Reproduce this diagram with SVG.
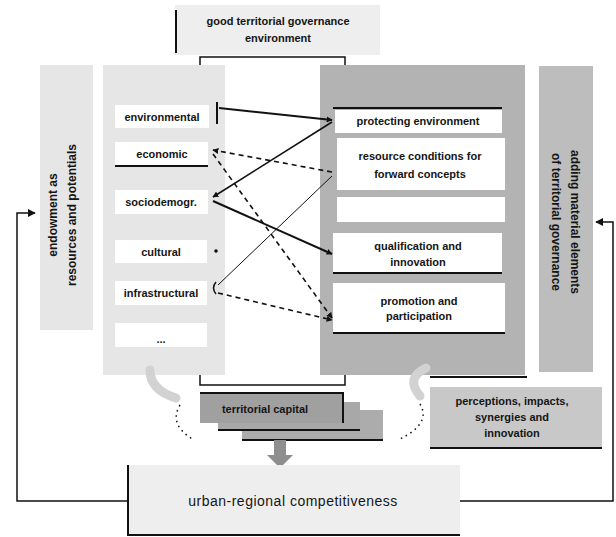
<svg xmlns="http://www.w3.org/2000/svg" width="616" height="537" viewBox="0 0 616 537">
<defs>
<marker id="ah" viewBox="0 0 10 10" refX="9" refY="5" markerWidth="6" markerHeight="6" orient="auto-start-reverse" markerUnits="userSpaceOnUse"><path d="M0,0 L10,5 L0,10 z" fill="#111"/></marker>
<marker id="ahb" viewBox="0 0 10 10" refX="9" refY="5" markerWidth="8" markerHeight="8" orient="auto" markerUnits="userSpaceOnUse"><path d="M0,0 L10,5 L0,10 z" fill="#111"/></marker>
</defs>
<style>
.t{font-family:"Liberation Sans",Arial,sans-serif;font-size:11px;font-weight:bold;fill:#151515;text-anchor:middle}
.v{font-family:"Liberation Sans",Arial,sans-serif;font-size:12px;font-weight:bold;fill:#151515;text-anchor:middle}
.box{fill:#ffffff}
.ln{stroke:#111;stroke-width:2;fill:none}
.c{stroke:#111;fill:none}
</style>
<rect width="616" height="537" fill="#ffffff"/>

<g id="frame"><rect x="200" y="57" width="145" height="328" fill="#ffffff" stroke="#111" stroke-width="1.5"/></g>

<g id="top-governance">
<rect x="175" y="5" width="205" height="50" fill="#eeeeee"/>
<line x1="176" y1="10" x2="176" y2="53" class="ln"/>
<text class="t" x="278" y="25">good territorial governance</text>
<text class="t" x="278" y="42">environment</text>
</g>

<g id="endowment">
<rect x="40" y="65" width="53" height="265" fill="#e6e6e6"/>
<text class="v" transform="translate(57,215) rotate(-90)">endowment as</text>
<text class="v" transform="translate(76,215) rotate(-90)">resources and potentials</text>
</g>

<g id="left-panel">
<rect x="103" y="65" width="122" height="310" fill="#e6e6e6"/>
</g>
<g id="environmental"><rect class="box" x="115" y="105" width="94" height="23"/><text class="t" x="162" y="121">environmental</text></g>
<g id="economic"><rect class="box" x="115" y="142" width="93" height="24"/><line x1="115" y1="166" x2="208" y2="166" class="ln"/><text class="t" x="162" y="158">economic</text></g>
<g id="sociodemogr"><rect class="box" x="115" y="190" width="93" height="24"/><text class="t" x="161" y="206">sociodemogr.</text></g>
<g id="cultural"><rect class="box" x="115" y="240" width="92" height="23"/><text class="t" x="161" y="256">cultural</text></g>
<g id="infrastructural"><rect class="box" x="115" y="281" width="92" height="24"/><text class="t" x="161" y="297">infrastructural</text></g>
<g id="more"><rect class="box" x="115" y="323" width="92" height="24"/><text class="t" x="161" y="343">...</text></g>

<g id="right-panel">
<rect x="320" y="65" width="205" height="310" fill="#b3b3b3"/>
<line x1="430" y1="377" x2="527" y2="377" class="ln"/>
</g>
<g id="protecting"><line x1="333" y1="108" x2="502" y2="108" class="ln"/><rect class="box" x="335" y="110" width="167" height="23"/><text class="t" x="418" y="125">protecting environment</text></g>
<g id="resource"><rect class="box" x="337" y="138" width="168" height="52"/><text class="t" x="420" y="160">resource conditions for</text><text class="t" x="420" y="178">forward concepts</text></g>
<g id="empty"><rect class="box" x="337" y="197" width="168" height="25"/></g>
<g id="qualification"><rect class="box" x="333" y="233" width="169" height="40"/><line x1="333" y1="273" x2="502" y2="273" class="ln"/><text class="t" x="418" y="250">qualification and</text><text class="t" x="418" y="266">innovation</text></g>
<g id="participation"><rect class="box" x="333" y="283" width="172" height="50"/><line x1="333" y1="333" x2="505" y2="333" class="ln"/><text class="t" x="419" y="305">promotion and</text><text class="t" x="419" y="320">participation</text></g>

<g id="governance-elements">
<rect x="539" y="66" width="54" height="306" fill="#bdbdbd"/>
<text class="v" transform="translate(571,222) rotate(90)">adding material elements</text>
<text class="v" transform="translate(552,222) rotate(90)">of territorial governance</text>
</g>

<g id="territorial-capital">
<rect x="242" y="410" width="141" height="30" fill="#acacac"/>
<line x1="242" y1="440" x2="383" y2="440" class="ln"/>
<rect x="218" y="402" width="142" height="28" fill="#a8a8a8"/>
<line x1="218" y1="430" x2="360" y2="430" class="ln"/>
<rect x="200" y="393" width="143" height="30" fill="#a0a0a0"/>
<path d="M200,393 H343 V423" class="ln"/>
<text class="t" x="265" y="413">territorial capital</text>
<path d="M274,440 H286 V455 H293 L280,468 L267,455 H274 Z" fill="#8e8e8e"/>
</g>

<g id="perceptions">
<rect x="430" y="387" width="172" height="61" fill="#c8c8c8"/>
<line x1="430" y1="448" x2="602" y2="448" class="ln"/>
<text class="t" x="512" y="405">perceptions, impacts,</text>
<text class="t" x="512" y="421">synergies and</text>
<text class="t" x="512" y="437">innovation</text>
</g>

<g id="competitiveness">
<rect x="127" y="465" width="333" height="70" fill="#eeeeee"/>
<path d="M128,465 V535 H460" class="ln"/>
<text class="t" x="293" y="506" style="font-size:14px;font-weight:normal;letter-spacing:0.5px">urban-regional competitiveness</text>
</g>

<g id="connectors">
<line x1="217" y1="102" x2="217" y2="124" class="ln"/>
<line x1="219" y1="108" x2="332" y2="120" class="c" stroke-width="2" marker-end="url(#ah)"/>
<line x1="332" y1="172" x2="213" y2="150" class="c" stroke-width="1.6" stroke-dasharray="5,4" marker-end="url(#ah)"/>
<line x1="332" y1="122" x2="213" y2="197" class="c" stroke-width="1.6" marker-end="url(#ah)"/>
<line x1="213" y1="201" x2="332" y2="254" class="c" stroke-width="2" marker-end="url(#ah)"/>
<line x1="213" y1="154" x2="332" y2="318" class="c" stroke-width="1.6" stroke-dasharray="5,4" marker-end="url(#ah)"/>
<line x1="218" y1="285" x2="332" y2="176" class="c" stroke-width="1" stroke="#444"/>
<line x1="218" y1="293" x2="332" y2="320" class="c" stroke-width="1.6" stroke-dasharray="5,4" marker-end="url(#ah)"/>
<path d="M216,282 Q211,288 216,294" class="c" stroke-width="1.5"/>
<circle cx="216" cy="251" r="1.8" fill="#111"/>
<path d="M150,370 Q150,390 176,398" stroke="#d2d2d2" stroke-width="9" fill="none" stroke-linecap="round"/>
<path d="M180,405 Q168,425 194,440" class="c" stroke="#666" stroke-width="1.5" stroke-dasharray="1.5,4"/>
<path d="M426,368 Q405,378 420,396" stroke="#d2d2d2" stroke-width="9" fill="none" stroke-linecap="round"/>
<path d="M420,404 Q432,424 398,440" class="c" stroke="#666" stroke-width="1.5" stroke-dasharray="1.5,4"/>
<path d="M127,501 H17 V213 H35" class="c" stroke-width="1.5" marker-end="url(#ahb)"/>
<path d="M460,501 H613 V222 H596" class="c" stroke-width="1.5" marker-end="url(#ahb)"/>
</g>
</svg>
